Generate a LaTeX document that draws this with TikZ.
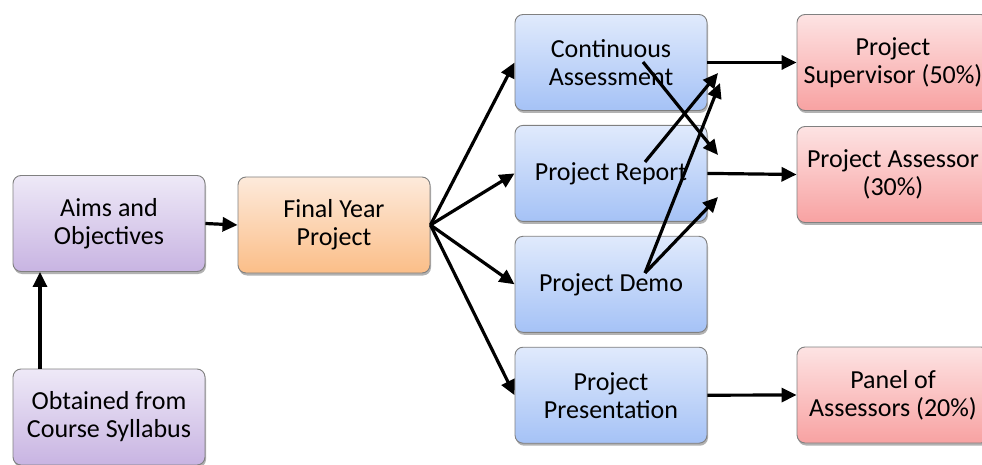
\documentclass[tikz,border=0pt]{standalone}
\usepackage{fontspec}
\setmainfont{Carlito}
\usepackage{tikz}
\usetikzlibrary{positioning,arrows.meta,shadows}

\definecolor{aimtop}{HTML}{EEE9F7}
\definecolor{aimbot}{HTML}{C8B4E2}
\definecolor{fyptop}{HTML}{FDEADB}
\definecolor{fypbot}{HTML}{FBBE88}
\definecolor{parttop}{HTML}{E0EAFC}
\definecolor{partbot}{HTML}{A5C2F6}
\definecolor{marktop}{HTML}{FDE3E3}
\definecolor{markbot}{HTML}{F8A2A2}

\begin{document}
\begin{tikzpicture}[
  x=1pt, y=1pt,
  node distance=14pt,
  block/.style={draw=black!50, line width=0.9pt, rounded corners=8pt,
    minimum width=192pt, minimum height=96pt, align=center,
    font=\fontsize{26}{28}\selectfont,
    drop shadow={shadow xshift=1pt, shadow yshift=-2.5pt, opacity=0.3, fill=black}},
  aims/.style={block, top color=aimtop, bottom color=aimbot},
  fyp/.style={block, top color=fyptop, bottom color=fypbot},
  part/.style={block, top color=parttop, bottom color=partbot},
  marker/.style={block, top color=marktop, bottom color=markbot},
  link/.style={line width=3.2pt, -{Triangle[length=15pt, width=14pt]}}
]
\useasboundingbox (0,0) rectangle (982,464);

% ======================================================
% =============== LEFT SIDE ============================
% ======================================================
\node (Obt) [aims] at (109,47) {Obtained from\\Course Syllabus};
\node (Aims) [aims] at (109,240.5) {Aims and\\Objectives};
\node (Fyp) [fyp] at (334,239) {Final Year\\Project};

% ======================================================
% =============== COMPONENTS ===========================
% ======================================================
\node (CA) [part] at (611,401.5) {Continuous\\Assessment};
\node (PR) [part, below=14pt of CA] {Project Report};
\node (PD) [part, below=14pt of PR] {Project Demo};
\node (PP) [part, below=14pt of PD] {Project\\Presentation};

% ======================================================
% =============== MARKERS ==============================
% ======================================================
\node (Sup) [marker] at (893,401.5) {Project\\Supervisor (50\%)};
\node (Ass) [marker] at (893,289.5) {Project Assessor\\(30\%)};
\node (Pan) [marker] at (893,69) {Panel of\\Assessors (20\%)};

% arrows
\draw[link] ([xshift=-69pt]Obt.north) -- ([xshift=-69pt]Aims.south);
\draw[link] (Aims.east) -- (Fyp.west);
\foreach \p in {CA,PR,PD,PP}
  \draw[link] (Fyp.east) -- (\p.west);
\draw[link] (CA.east) -- (Sup.west);
\draw[link] (PR.east) -- (Ass.west);
\draw[link] (PP.east) -- (Pan.west);

% crossing arrows
\coordinate (caIn) at (643,402);
\coordinate (caOut) at (718,309);
\coordinate (prIn) at (645,302);
\coordinate (prOut) at (718,391);
\coordinate (pdIn) at (645,191);
\coordinate (pdOutA) at (720,381);
\coordinate (pdOutB) at (718,267);
\draw[link] (caIn) -- (caOut);
\draw[link] (prIn) -- (prOut);
\draw[link] (pdIn) -- (pdOutA);
\draw[link] (pdIn) -- (pdOutB);
\end{tikzpicture}
\end{document}
